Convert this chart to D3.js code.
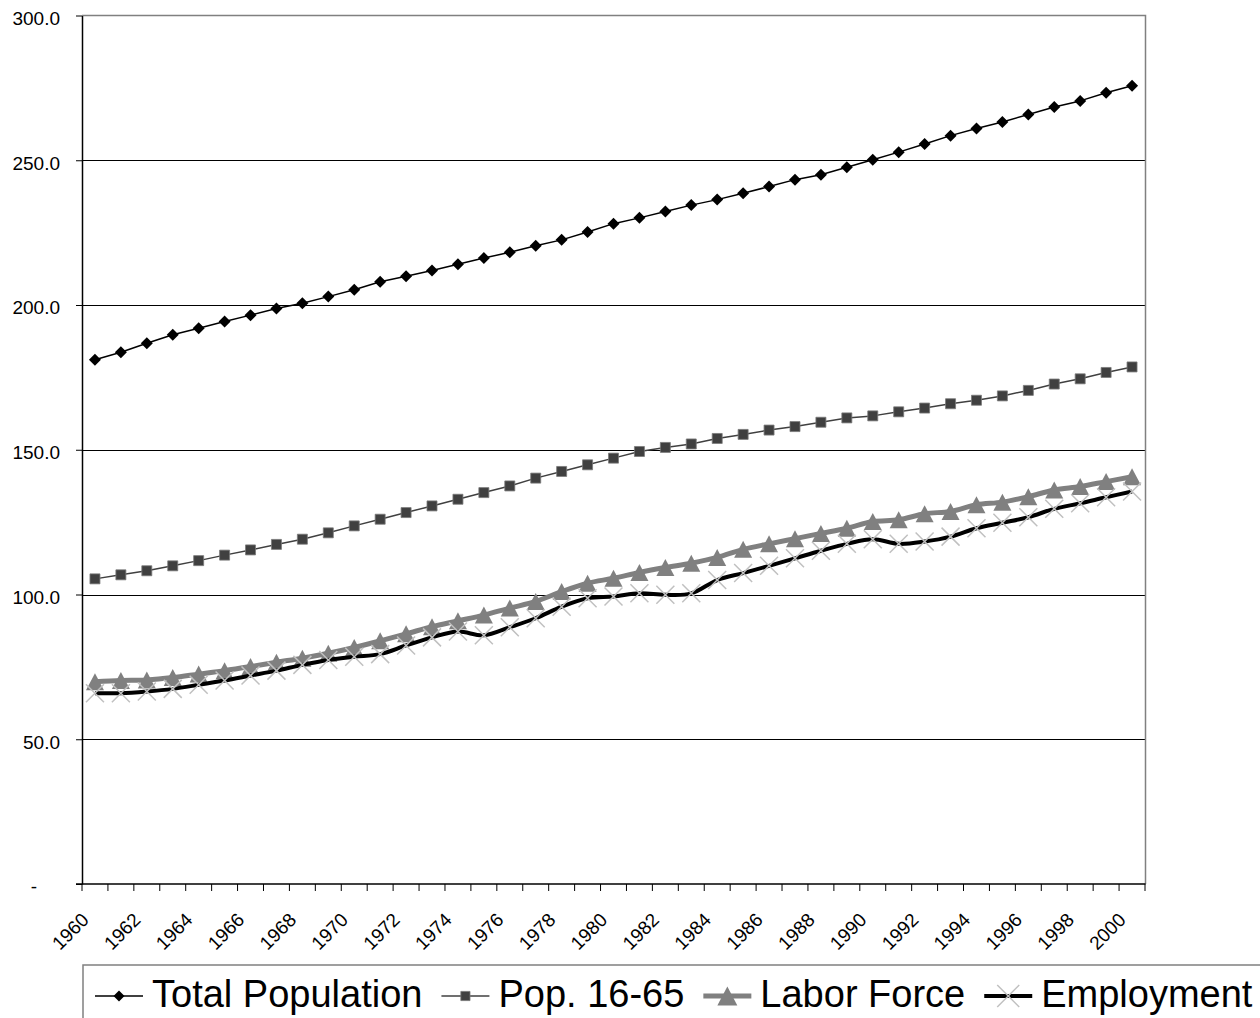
<!DOCTYPE html>
<html>
<head>
<meta charset="utf-8">
<script src="https://cdn.jsdelivr.net/npm/d3@7/dist/d3.min.js"></script>
<style>
  html, body { margin: 0; padding: 0; background: #fff; }
  svg { display: block; font-family: "Liberation Sans", Arial, sans-serif; }
</style>
</head>
<body>
<svg id="chart" width="1260" height="1018"></svg>
<script>
// Years on the category axis
const years = [1960,1961,1962,1963,1964,1965,1966,1967,1968,1969,
               1970,1971,1972,1973,1974,1975,1976,1977,1978,1979,
               1980,1981,1982,1983,1984,1985,1986,1987,1988,1989,
               1990,1991,1992,1993,1994,1995,1996,1997,1998,1999,2000];

// Series values (millions)
const totalPopulation = [181.1,183.7,186.8,189.7,192.0,194.3,196.5,198.8,200.6,202.9,
                         205.3,208.0,209.9,211.9,214.1,216.2,218.2,220.5,222.5,225.2,
                         228.1,230.1,232.3,234.5,236.4,238.6,240.9,243.3,245.0,247.6,
                         250.2,252.8,255.6,258.5,261.0,263.2,265.8,268.4,270.5,273.3,275.7];
const pop1665 = [105.4,106.8,108.2,109.9,111.7,113.6,115.4,117.3,119.1,121.3,
                 123.7,126.0,128.3,130.6,132.9,135.2,137.5,140.2,142.5,144.8,
                 147.1,149.4,150.8,152.0,153.9,155.3,156.8,158.0,159.5,161.0,
                 161.7,163.1,164.4,165.9,167.1,168.6,170.5,172.7,174.5,176.7,178.6];
const laborForce = [69.9,70.3,70.5,71.3,72.5,73.7,75.1,76.6,78.0,79.7,
                    81.7,84.0,86.4,88.9,90.9,92.9,95.3,97.6,101.0,103.9,
                    105.6,107.6,109.3,110.8,112.8,115.6,117.5,119.3,121.1,122.9,
                    125.2,125.8,127.9,128.7,131.0,131.9,133.8,136.1,137.3,139.0,140.7];
const employment = [65.9,65.9,66.5,67.4,68.8,70.3,72.0,73.7,75.7,77.4,
                    78.5,79.4,82.4,85.2,87.2,85.9,88.7,91.8,95.8,98.7,
                    99.3,100.4,99.9,100.4,105.0,107.4,109.9,112.5,115.1,117.5,
                    119.1,117.5,118.3,120.0,122.9,124.8,126.7,129.6,131.5,133.6,135.6];

// Axis tick labels
const yTicks = [0, 50, 100, 150, 200, 250, 300];
const xLabels = [1960,1962,1964,1966,1968,1970,1972,1974,1976,1978,1980,
                 1982,1984,1986,1988,1990,1992,1994,1996,1998,2000];

const seriesNames = ["Total Population", "Pop. 16-65", "Labor Force", "Employment"];

const svg = d3.select("#chart");
const plot = { left: 82, right: 1145, top: 15.5, bottom: 884 };
const font = "'Liberation Sans', Arial, sans-serif";

const x = d3.scaleBand().domain(years).range([plot.left, plot.right]).paddingInner(0).paddingOuter(0);
const cx = d => x(d) + x.bandwidth() / 2;
const y = d3.scaleLinear().domain([0, 300]).range([plot.bottom, plot.top]);

// Horizontal gridlines
svg.append("g").selectAll("line")
  .data(yTicks.filter(v => v > 0 && v < 300))
  .join("line")
  .attr("x1", plot.left).attr("x2", plot.right)
  .attr("y1", d => Math.round(y(d)) + 0.5).attr("y2", d => Math.round(y(d)) + 0.5)
  .attr("stroke", "#000").attr("stroke-width", 1);

// Plot area border (top and right)
svg.append("path")
  .attr("d", `M${plot.left},${plot.top}H${plot.right + 0.5}V${plot.bottom}`)
  .attr("fill", "none").attr("stroke", "#808080").attr("stroke-width", 1.5);

// Y axis
const yAxis = svg.append("g")
  .attr("transform", `translate(${plot.left},0)`)
  .call(d3.axisLeft(y).tickValues(yTicks).tickSize(6).tickSizeOuter(0)
    .tickFormat(d => d === 0 ? "-" : d.toFixed(1)));
yAxis.select(".domain").attr("stroke", "#000").attr("stroke-width", 1.5);
yAxis.selectAll(".tick line").attr("stroke", "#000");
yAxis.selectAll(".tick text")
  .attr("x", -22).attr("dy", "0.47em")
  .attr("font-size", 19).attr("fill", "#000")
  .attr("font-family", font)
  .filter(d => d === 0).attr("x", -45);

// X axis baseline and category boundary ticks
svg.append("line")
  .attr("x1", plot.left - 6).attr("x2", plot.right + 0.5)
  .attr("y1", plot.bottom).attr("y2", plot.bottom)
  .attr("stroke", "#000").attr("stroke-width", 1.5);
svg.append("g").selectAll("line")
  .data(years.map(d => x(d)).concat([plot.right]))
  .join("line")
  .attr("x1", d => d).attr("x2", d => d)
  .attr("y1", plot.bottom).attr("y2", plot.bottom + 7)
  .attr("stroke", "#000").attr("stroke-width", 1);

// X axis labels, rotated
const xAxis = svg.append("g")
  .attr("transform", `translate(0,${plot.bottom})`)
  .call(d3.axisBottom(x).tickValues(xLabels).tickSize(0).tickSizeOuter(0));
xAxis.select(".domain").remove();
xAxis.selectAll(".tick text")
  .attr("font-size", 19).attr("fill", "#000")
  .attr("font-family", font)
  .attr("text-anchor", "end")
  .attr("x", 0).attr("y", 0).attr("dy", 0)
  .attr("transform", "translate(-5,37) rotate(-45)");

// Marker shapes
const diamond = s => `M0,${-s}L${s},0L0,${s}L${-s},0Z`;
const square = s => `M${-s},${-s}H${s}V${s}H${-s}Z`;
const triangle = (w, h) => `M0,${-h / 2}L${w},${h / 2}L${-w},${h / 2}Z`;
const cross = s => `M${-s},${-s}L${s},${s}M${-s},${s}L${s},${-s}`;

const series = [
  { name: seriesNames[0], values: totalPopulation, line: "#000", width: 1.5, curve: d3.curveLinear,
    marker: { d: diamond(6), fill: "#000", stroke: "none", sw: 0 },
    legend: { d: diamond(5.5), fill: "#000", stroke: "none", sw: 0 } },
  { name: seriesNames[1], values: pop1665, line: "#404040", width: 1.5, curve: d3.curveLinear,
    marker: { d: square(5), fill: "#404040", stroke: "#7a7a7a", sw: 0.8 },
    legend: { d: square(4.6), fill: "#404040", stroke: "#7a7a7a", sw: 0.8 } },
  { name: seriesNames[2], values: laborForce, line: "#808080", width: 5, curve: d3.curveCatmullRom.alpha(0),
    marker: { d: triangle(9, 17), fill: "#808080", stroke: "none", sw: 0 },
    legend: { d: triangle(10, 19), fill: "#808080", stroke: "none", sw: 0 } },
  { name: seriesNames[3], values: employment, line: "#000", width: 4, curve: d3.curveCatmullRom.alpha(0),
    marker: { d: cross(9), fill: "none", stroke: "#c0c0c0", sw: 1.5 },
    legend: { d: cross(11), fill: "none", stroke: "#c0c0c0", sw: 1.5 } }
];

const seriesG = svg.append("g").selectAll("g").data(series).join("g");

seriesG.append("path")
  .attr("fill", "none")
  .attr("stroke", s => s.line)
  .attr("stroke-width", s => s.width)
  .attr("stroke-linejoin", "round")
  .attr("d", s => d3.line().curve(s.curve)
    .x((v, i) => cx(years[i])).y(v => y(v))(s.values));

seriesG.each(function(s) {
  d3.select(this).append("g").selectAll("path")
    .data(s.values)
    .join("path")
    .attr("transform", (v, i) => `translate(${cx(years[i])},${y(v)})`)
    .attr("d", s.marker.d)
    .attr("fill", s.marker.fill)
    .attr("stroke", s.marker.stroke)
    .attr("stroke-width", s.marker.sw);
});

// Legend
const legendTop = 965, legendMid = 996, legendLeft = 83;
const legend = svg.append("g");
legend.append("rect")
  .attr("x", legendLeft).attr("y", legendTop)
  .attr("width", 1300).attr("height", 200)
  .attr("fill", "#fff").attr("stroke", "#808080").attr("stroke-width", 1.5);

let cursor = 95;
series.forEach(s => {
  const item = legend.append("g");
  item.append("line")
    .attr("x1", cursor).attr("x2", cursor + 48)
    .attr("y1", legendMid).attr("y2", legendMid)
    .attr("stroke", s.line).attr("stroke-width", s.width);
  item.append("path")
    .attr("transform", `translate(${cursor + 24},${legendMid})`)
    .attr("d", s.legend.d)
    .attr("fill", s.legend.fill)
    .attr("stroke", s.legend.stroke)
    .attr("stroke-width", s.legend.sw);
  const t = item.append("text")
    .attr("x", cursor + 57).attr("y", 1007)
    .attr("font-size", 38).attr("fill", "#000")
    .attr("font-family", font)
    .text(s.name);
  cursor = cursor + 57 + t.node().getComputedTextLength() + 19;
});
</script>
</body>
</html>
